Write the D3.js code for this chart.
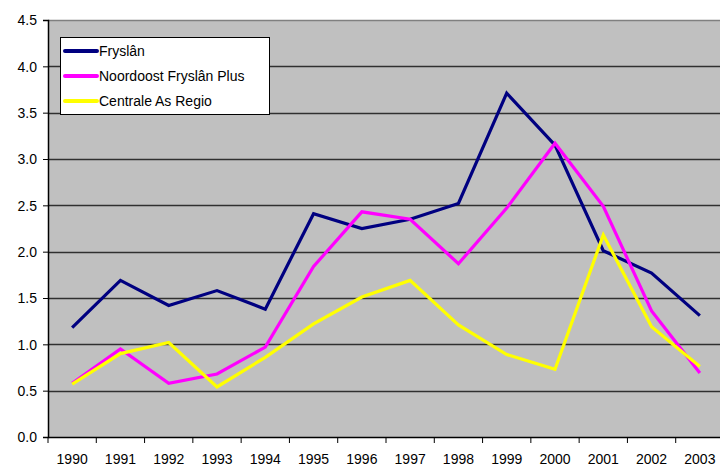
<!DOCTYPE html>
<html lang="nl">
<head>
<meta charset="UTF-8">
<title>Fryslân</title>
<script src="https://d3js.org/d3.v7.min.js"></script>
<style>
  body { margin: 0; background: #fff; }
  svg text { font-family: "Liberation Sans", Arial, sans-serif; font-size: 14px; fill: #000; }
</style>
</head>
<body>
<svg width="720" height="467"></svg>
<script>
const years = ["1990","1991","1992","1993","1994","1995","1996","1997","1998","1999","2000","2001","2002","2003"];
const fryslan   = [1.18, 1.69, 1.42, 1.58, 1.38, 2.41, 2.25, 2.35, 2.52, 3.71, 3.15, 2.01, 1.77, 1.31];
const noordoost = [0.58, 0.95, 0.58, 0.68, 0.97, 1.84, 2.43, 2.35, 1.87, 2.47, 3.17, 2.49, 1.36, 0.69];
const centrale  = [0.57, 0.90, 1.02, 0.54, 0.86, 1.22, 1.51, 1.69, 1.21, 0.89, 0.73, 2.18, 1.19, 0.76];
const yTicks = [0, 0.5, 1, 1.5, 2, 2.5, 3, 3.5, 4, 4.5];

const series = [
  { name: "Fryslân", values: fryslan, color: "#000080" },
  { name: "Noordoost Fryslân Plus", values: noordoost, color: "#ff00ff" },
  { name: "Centrale As Regio", values: centrale, color: "#ffff00" }
];

const svg = d3.select("svg");
const plotLeft = 48, plotTop = 20, plotBottom = 437, plotRight = 724;

const x = d3.scaleBand().domain(years).range([plotLeft, plotRight]).padding(0);
const y = d3.scaleLinear().domain([0, 4.5]).range([plotBottom, plotTop]);

// plot background
svg.append("rect")
  .attr("x", plotLeft).attr("y", plotTop)
  .attr("width", plotRight - plotLeft).attr("height", plotBottom - plotTop)
  .attr("fill", "#c0c0c0");
svg.append("line")
  .attr("x1", plotLeft).attr("x2", plotRight).attr("y1", plotTop + 0.5).attr("y2", plotTop + 0.5)
  .attr("stroke", "#808080").attr("stroke-width", 1.5);

// gridlines
svg.append("g")
  .selectAll("line")
  .data(yTicks.filter(d => d > 0 && d < 4.5))
  .join("line")
  .attr("x1", plotLeft).attr("x2", plotRight)
  .attr("y1", d => Math.round(y(d)) + 0.5).attr("y2", d => Math.round(y(d)) + 0.5)
  .attr("stroke", "#303030").attr("stroke-width", 1.5);

// y axis
const yAxis = svg.append("g")
  .attr("transform", `translate(${plotLeft},0)`)
  .call(d3.axisLeft(y).tickValues(yTicks).tickFormat(d3.format(".1f")).tickSize(5).tickPadding(6));
yAxis.select(".domain").attr("stroke", "#000").attr("stroke-width", 1.5);
yAxis.selectAll(".tick line").attr("stroke", "#000");
yAxis.selectAll("text").style("font-size", "14px").attr("dy", "0.35em");

// x axis
const xAxis = svg.append("g")
  .attr("transform", `translate(0,${plotBottom})`)
  .call(d3.axisBottom(x).tickSize(0).tickPadding(17));
xAxis.select(".domain").attr("stroke", "#000").attr("stroke-width", 1.5);
xAxis.selectAll("text").style("font-size", "14px");
xAxis.append("g")
  .selectAll("line")
  .data(years)
  .join("line")
  .attr("x1", d => x(d)).attr("x2", d => x(d))
  .attr("y1", 0).attr("y2", 6)
  .attr("stroke", "#000");

// series lines
const line = d3.line()
  .x((d, i) => x(years[i]) + x.bandwidth() / 2)
  .y(d => y(d));

svg.append("g")
  .selectAll("path")
  .data(series)
  .join("path")
  .attr("d", d => line(d.values))
  .attr("fill", "none")
  .attr("stroke", d => d.color)
  .attr("stroke-width", 3.2)
  .attr("stroke-linejoin", "miter");

// legend
const lg = svg.append("g").attr("transform", "translate(60,37)");
lg.append("rect")
  .attr("x", 0.5).attr("y", 0.5).attr("width", 209).attr("height", 77)
  .attr("fill", "#fff").attr("stroke", "#000");
const rows = lg.selectAll("g.row")
  .data(series)
  .join("g")
  .attr("class", "row")
  .attr("transform", (d, i) => `translate(0,${14 + i * 25})`);
rows.append("line")
  .attr("x1", 5).attr("x2", 37).attr("y1", 0).attr("y2", 0)
  .attr("stroke", d => d.color).attr("stroke-width", 4).attr("stroke-linecap", "round");
rows.append("text")
  .attr("x", 39).attr("y", 0).attr("dy", "0.35em")
  .text(d => d.name);
</script>
</body>
</html>
